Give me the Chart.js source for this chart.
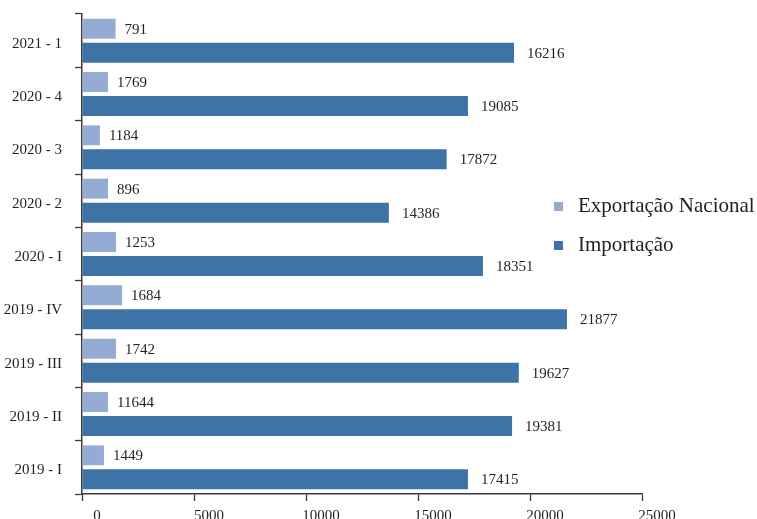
<!DOCTYPE html>
<html>
<head>
  <meta charset="UTF-8">
  <title>Exportação Nacional vs Importação</title>
  <script src="https://cdn.jsdelivr.net/npm/chart.js"></script>
  <style>
    body {
      margin: 0;
      background: #ffffff;
      overflow: hidden;
      font-family: "Liberation Serif", serif;
      color: #231f20;
    }

    .wrap {
      position: relative;
      width: 757px;
      height: 519px;
    }

    .legend {
      position: absolute;
      left: 554px;
      top: 191px;
      font-size: 21px;
    }

    .legend div {
      display: flex;
      align-items: center;
      height: 28px;
      margin-bottom: 11px;
      white-space: nowrap;
    }

    .legend span {
      display: inline-block;
      width: 9px;
      height: 9px;
      margin-right: 15px;
      margin-top: 3px;
    }
  </style>
</head>
<body>

  <div class="wrap">
    <canvas id="chart"></canvas>
    <div class="legend" id="legend"></div>
  </div>

  <script>
    // categories, top to bottom
    const periods = ['2021 - 1', '2020 - 4', '2020 - 3', '2020 - 2', '2020 - I', '2019 - IV', '2019 - III', '2019 - II', '2019 - I'];

    // bar lengths as drawn in the picture
    const exportacao = [1500, 1160, 800, 1160, 1520, 1790, 1520, 1160, 980];
    const importacao = [19290, 17230, 16280, 13700, 17900, 21650, 19500, 19200, 17230];

    // value labels as printed next to the bars
    const exportacaoLabels = ['791', '1769', '1184', '896', '1253', '1684', '1742', '11644', '1449'];
    const importacaoLabels = ['16216', '19085', '17872', '14386', '18351', '21877', '19627', '19381', '17415'];

    const xTicks = [0, 5000, 10000, 15000, 20000, 25000];

    const seriesNames = ['Exportação Nacional', 'Importação'];
    const colors = ['#94abd3', '#3e73a7'];
    const textColor = '#231f20';
    const font = '"Liberation Serif", serif';

    // legend at the right
    const legendDiv = document.getElementById('legend');
    seriesNames.forEach((name, i) => {
      const row = document.createElement('div');
      row.innerHTML = `<span style="background:${colors[i]}"></span>${name}`;
      legendDiv.appendChild(row);
    });

    // numbers after the bar ends
    const valueLabels = {
      id: 'valueLabels',
      afterDatasetsDraw(chart) {
        const ctx = chart.ctx;
        const texts = [exportacaoLabels, importacaoLabels];
        const gaps = [9, 13];
        ctx.save();
        ctx.font = '15px ' + font;
        ctx.fillStyle = textColor;
        ctx.textAlign = 'left';
        ctx.textBaseline = 'middle';
        chart.data.datasets.forEach((ds, i) => {
          chart.getDatasetMeta(i).data.forEach((bar, j) => {
            ctx.fillText(texts[i][j], bar.x + gaps[i], bar.y + 1);
          });
        });
        ctx.restore();
      }
    };

    new Chart(document.getElementById('chart'), {
      type: 'bar',
      data: {
        labels: periods,
        datasets: [
          {
            label: seriesNames[0],
            data: exportacao,
            backgroundColor: colors[0],
            categoryPercentage: 0.9,
            barPercentage: 0.83
          },
          {
            label: seriesNames[1],
            data: importacao,
            backgroundColor: colors[1],
            categoryPercentage: 0.9,
            barPercentage: 0.83
          }
        ]
      },
      options: {
        indexAxis: 'y',
        responsive: true,
        maintainAspectRatio: false,
        animation: false,
        layout: {
          padding: { top: 14, right: 115, left: 0, bottom: 0 }
        },
        plugins: {
          legend: { display: false },
          tooltip: { enabled: false }
        },
        scales: {
          x: {
            type: 'linear',
            min: 0,
            max: 25000,
            afterBuildTicks: axis => {
              axis.ticks = xTicks.map(v => ({ value: v }));
            },
            afterFit: axis => {
              axis.height = 25;
            },
            grid: {
              drawOnChartArea: false,
              tickLength: 7,
              tickColor: '#3a3a3a',
              tickWidth: 1.3
            },
            border: { color: '#3a3a3a', width: 1.5 },
            ticks: {
              color: textColor,
              font: { family: font, size: 15 },
              padding: 6,
              labelOffset: 15,
              maxRotation: 0,
              callback: v => String(v)
            }
          },
          y: {
            type: 'category',
            afterFit: axis => {
              axis.width = 82;
              axis.paddingTop = 0;
              axis.paddingBottom = 0;
            },
            grid: {
              drawOnChartArea: false,
              offset: true,
              tickLength: 7,
              tickColor: '#3a3a3a',
              tickWidth: 1.3
            },
            border: { color: '#3a3a3a', width: 1.5 },
            ticks: {
              color: textColor,
              font: { family: font, size: 15 },
              padding: 13,
              labelOffset: 3
            }
          }
        }
      },
      plugins: [valueLabels]
    });
  </script>

</body>
</html>
